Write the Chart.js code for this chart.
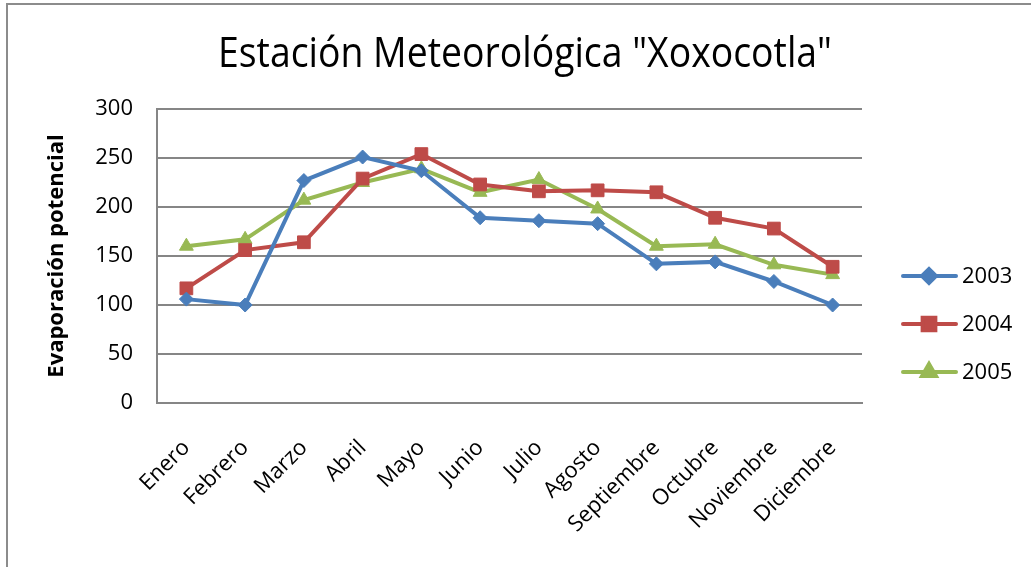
<!DOCTYPE html>
<html>
<head>
<meta charset="utf-8">
<script src="https://cdn.jsdelivr.net/npm/chart.js@4"></script>
<style>
  html, body { margin: 0; padding: 0; background: #fff; overflow: hidden; }
  #wrap { position: relative; width: 1031px; height: 567px; }
  #frame { position: absolute; left: 6px; top: 3px; width: 1040px; height: 600px; border: 2px solid #8c8c8c; box-sizing: border-box; }
  canvas { position: absolute; left: 0; top: 0; }
</style>
</head>
<body>
<div id="wrap">
  <div id="frame"></div>
  <canvas id="chart" width="1031" height="567"></canvas>
</div>
<script>
// --- Data ---
const months = ['Enero', 'Febrero', 'Marzo', 'Abril', 'Mayo', 'Junio', 'Julio', 'Agosto', 'Septiembre', 'Octubre', 'Noviembre', 'Diciembre'];
const seriesNames = ['2003', '2004', '2005'];
const values2003 = [106, 100, 227, 251, 237, 189, 186, 183, 142, 144, 124, 100];
const values2004 = [117, 156, 164, 229, 254, 223, 216, 217, 215, 189, 178, 139];
const values2005 = [160, 167, 207, 225, 239, 215, 228, 198, 160, 162, 141, 131];
const yTicks = [0, 50, 100, 150, 200, 250, 300];

const titleText = 'Estación Meteorológica "Xoxocotla"';
const yAxisTitle = 'Evaporación potencial';

const FONT = '"Open Sans", "Noto Sans", sans-serif';
const GRID = '#868686';

// title + legend drawn by hand (Excel style legend: line with marker)
const excelDecor = {
    id: 'excelDecor',
    afterDraw(chart) {
        const ctx = chart.ctx;
        ctx.save();
        // title, squeezed to the reference width
        ctx.font = '42px ' + FONT;
        ctx.fillStyle = '#000';
        ctx.textBaseline = 'alphabetic';
        ctx.textAlign = 'left';
        const w = ctx.measureText(titleText).width;
        const target = 614;
        ctx.translate(218, 67);
        ctx.scale(target / w, 1);
        ctx.fillText(titleText, 0, 0);
        ctx.restore();

        // legend
        ctx.save();
        const rows = [276, 324, 372];
        chart.data.datasets.forEach((ds, i) => {
            const y = rows[i];
            ctx.strokeStyle = ds.borderColor;
            ctx.lineWidth = 4;
            ctx.lineCap = 'round';
            ctx.beginPath();
            ctx.moveTo(903, y);
            ctx.lineTo(956, y);
            ctx.stroke();
            ctx.fillStyle = ds.backgroundColor;
            ctx.strokeStyle = ds.borderColor;
            Chart.helpers.drawPoint(ctx, {
                pointStyle: ds.pointStyle,
                radius: ds.pointRadius,
                rotation: ds.pointRotation || 0,
                borderWidth: 1
            }, 929, y);
            ctx.fillStyle = '#000';
            ctx.font = '22px ' + FONT;
            ctx.textAlign = 'left';
            ctx.textBaseline = 'middle';
            ctx.fillText(ds.label, 962, y + 1);
        });
        ctx.restore();
    }
};

function makeSet(label, data, color, style, radius) {
    return {
        label: label,
        data: data,
        borderColor: color,
        backgroundColor: color,
        borderWidth: 4,
        pointStyle: style,
        pointRadius: radius,
        pointHoverRadius: radius,
        pointBorderWidth: 1,
        tension: 0
    };
}

const ctx = document.getElementById('chart').getContext('2d');
new Chart(ctx, {
    type: 'line',
    data: {
        labels: months,
        datasets: [
            makeSet(seriesNames[0], values2003, '#4A7EBB', 'rectRot', 7),
            makeSet(seriesNames[1], values2004, '#BE4B48', 'rect', 9),
            makeSet(seriesNames[2], values2005, '#98B954', 'triangle', 8)
        ]
    },
    options: {
        responsive: false,
        animation: false,
        layout: { padding: { left: 8, top: 109, right: 169, bottom: 0 } },
        plugins: {
            legend: { display: false },
            title: { display: false },
            tooltip: { enabled: false }
        },
        scales: {
            x: {
                offset: true,
                grid: { display: false, drawTicks: false },
                border: { display: true, color: GRID, width: 2 },
                ticks: {
                    autoSkip: false,
                    minRotation: 45,
                    maxRotation: 45,
                    padding: 32,
                    color: '#000',
                    font: { family: FONT, size: 22 }
                },
                afterFit(scale) { scale.height = 567 - 403; }
            },
            y: {
                min: 0,
                max: 300,
                afterBuildTicks(scale) { scale.ticks = yTicks.map(v => ({ value: v })); },
                grid: { color: GRID, lineWidth: 2, drawTicks: false },
                border: { display: true, color: GRID, width: 2 },
                ticks: {
                    padding: 24,
                    color: '#000',
                    font: { family: FONT, size: 22 }
                },
                title: {
                    display: true,
                    text: yAxisTitle,
                    color: '#000',
                    font: { family: FONT, size: 22, weight: 'bold' },
                    padding: { top: 36, bottom: 0 }
                },
                afterFit(scale) { scale.width = 157 - 8; }
            }
        }
    },
    plugins: [excelDecor]
});
</script>
</body>
</html>
